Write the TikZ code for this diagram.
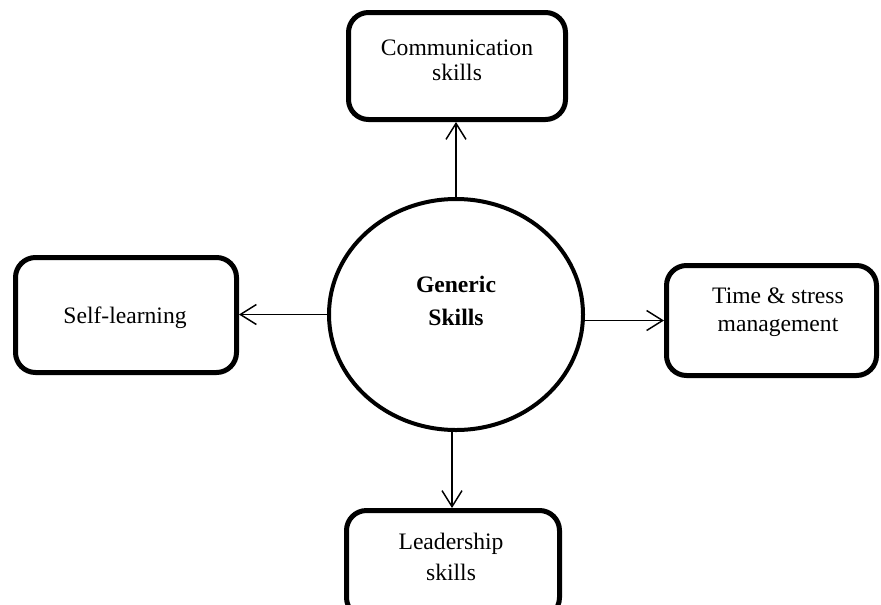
\documentclass[tikz,border=0pt]{standalone}
\usepackage{fontspec}
\setmainfont{Liberation Serif}
\usetikzlibrary{shapes.geometric,arrows.meta}
\begin{document}
\begin{tikzpicture}[x=0.75pt,y=-0.75pt,
  box/.style={draw=black,line width=3.75pt,rounded corners=15pt,rectangle,inner sep=0pt},
  hub/.style={draw=black,line width=3pt,ellipse,inner sep=0pt,minimum width=190.5pt,minimum height=173.25pt},
  txt/.style={anchor=base,inner sep=0pt,font=\fontsize{17.7}{20}\selectfont},
  btxt/.style={txt,font=\fontsize{17.7}{20}\selectfont\bfseries},
  arr/.style={line width=1.1pt,-{Straight Barb[length=12pt,width=15pt,line width=1.1pt]}}]
\clip (0,0) rectangle (881,604);
\fill[white] (0,0) rectangle (881,604);
% nodes
\node[hub] (hub) at (456,314.5) {};
\node[box,minimum width=162.75pt,minimum height=80.25pt] (comm) at (457,66) {};
\node[box,minimum width=165.75pt,minimum height=86.25pt] (self) at (126,315) {};
\node[box,minimum width=157.5pt,minimum height=82.5pt] (time) at (771.5,320.5) {};
\node[box,minimum width=159.75pt,minimum height=80.25pt] (lead) at (453,564) {};
% texts
\node[btxt] (hub1) at (456,292) {Generic};
\node[btxt] (hub2) at (456,325) {Skills};
\node[txt] (comm1) at (457,55) {Communication};
\node[txt] (comm2) at (457,80) {skills};
\node[txt] (self1) at (125,323) {Self-learning};
\node[txt] (time1) at (778,303) {Time \& stress};
\node[txt] (time2) at (778,331) {management};
\node[txt] (lead1) at (451,549) {Leadership};
\node[txt] (lead2) at (451,580) {skills};
% connectors
\draw[arr] (hub.north) -- (hub.north |- comm.south);
\draw[arr] (hub.west) -- (hub.west -| self.east);
\draw[arr] ([yshift=-4.5pt]hub.east) -- ([yshift=-4.5pt]hub.east -| time.west);
\draw[arr] ([xshift=-3pt]hub.south) -- ([xshift=-3pt]hub.south |- lead.north);
\end{tikzpicture}
\end{document}
